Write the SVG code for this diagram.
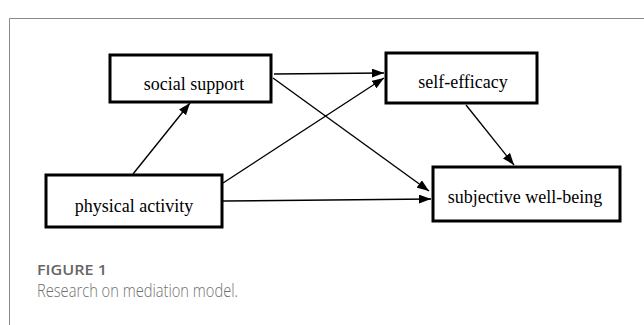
<svg xmlns="http://www.w3.org/2000/svg" width="644" height="325" viewBox="0 0 644 325">
<style>
.box{fill:#fff;stroke:#000;stroke-width:3}
.lbl{font-family:"Liberation Serif","Times New Roman",serif;font-size:18px;fill:#000;text-anchor:middle}
.edge{stroke:#000;stroke-width:1.4;fill:none;marker-end:url(#ah)}
.cap1{font-family:"Open Sans",sans-serif;font-size:14px;font-weight:600;fill:#666}
.cap2{font-family:"Open Sans",sans-serif;font-size:18px;font-weight:300;fill:#707070}
</style>
<defs>
<marker id="ah" markerWidth="12" markerHeight="9" refX="12" refY="4.5" orient="auto" markerUnits="userSpaceOnUse">
<path d="M0,0 L12,4.5 L0,9 Z" fill="#000"/>
</marker>
</defs>
<rect width="644" height="325" fill="#fff"/>
<path d="M9.5,325 V18.5 H644" fill="none" stroke="#8a8a8a" stroke-width="1"/>
<g id="connectors">
<line class="edge" x1="133" y1="174" x2="190" y2="103"/>
<line class="edge" x1="274" y1="74" x2="384" y2="73"/>
<line class="edge" x1="273" y1="78" x2="429" y2="191"/>
<line class="edge" x1="223" y1="183" x2="384" y2="78"/>
<line class="edge" x1="223" y1="201" x2="431" y2="199"/>
<line class="edge" x1="466" y1="105" x2="514" y2="165"/>
</g>
<g id="social-support">
<rect class="box" x="110" y="55" width="161" height="47"/>
<text class="lbl" x="194" y="90">social support</text>
</g>
<g id="self-efficacy">
<rect class="box" x="386" y="53" width="151" height="50"/>
<text class="lbl" x="463" y="88">self-efficacy</text>
</g>
<g id="physical-activity">
<rect class="box" x="46" y="175" width="176" height="52"/>
<text class="lbl" x="134" y="212">physical activity</text>
</g>
<g id="subjective-well-being">
<rect class="box" x="433" y="167" width="187" height="54"/>
<text class="lbl" x="525" y="203">subjective well-being</text>
</g>
<text class="cap1" x="37" y="275" textLength="70" lengthAdjust="spacingAndGlyphs">FIGURE 1</text>
<text class="cap2" x="37" y="297" textLength="201" lengthAdjust="spacingAndGlyphs">Research on mediation model.</text>
</svg>
